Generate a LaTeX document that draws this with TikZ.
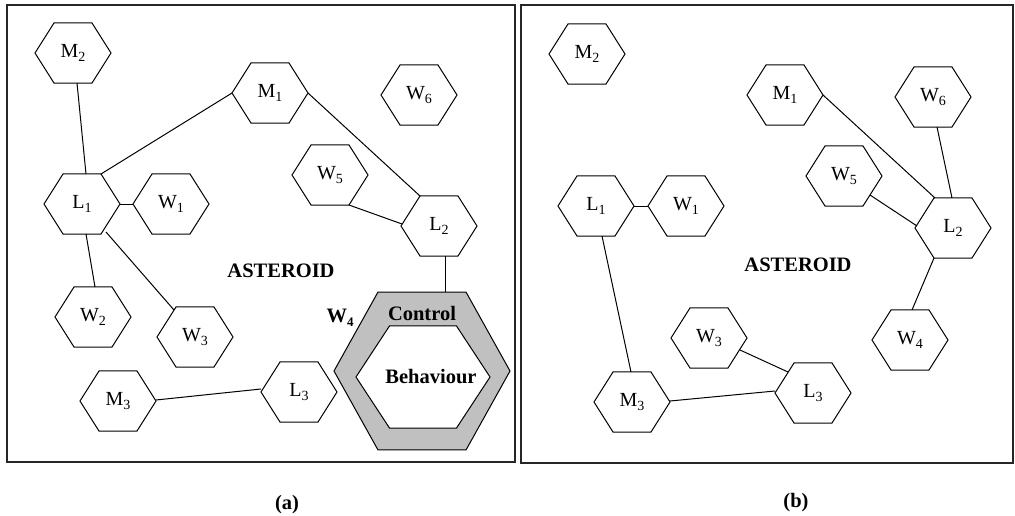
\documentclass[tikz,border=0pt]{standalone}
\usepackage{graphicx}
\usepackage{fontspec}
\setmainfont{Liberation Serif}
\usetikzlibrary{shapes.geometric,calc}
\newcommand{\hsub}[1]{\raisebox{-4pt}{\fontsize{14}{14}\selectfont #1}}
\newcommand{\bsub}[1]{\raisebox{-4pt}{\fontsize{13}{13}\selectfont\bfseries #1}}
\newcommand{\hx}[2]{\scalebox{0.9116}[1]{#1\hsub{#2}}}
\definecolor{shellgray}{RGB}{192,192,192}
\begin{document}
\begin{tikzpicture}[x=1pt,y=-1pt,
  hex/.style={regular polygon, regular polygon sides=6, minimum size=69.3pt,
    inner sep=0pt, outer sep=0pt, draw, line width=1pt, fill=white,
    xscale=1.097, font=\fontsize{20}{20}\selectfont},
  shell/.style={regular polygon, regular polygon sides=6, minimum size=182.4pt,
    inner sep=0pt, outer sep=0pt, draw, line width=1pt, fill=shellgray, xscale=0.965},
  core/.style={regular polygon, regular polygon sides=6, minimum size=117.8pt,
    inner sep=0pt, outer sep=0pt, draw, line width=1pt, fill=white, xscale=1.138},
  link/.style={line width=1pt},
  frame/.style={line width=1.6pt, draw=black!85},
  boldtxt/.style={font=\fontsize{20.5}{20.5}\selectfont\bfseries, inner sep=0pt},
]
\useasboundingbox (0,0) rectangle (1015,516);
\fill[white] (0,0) rectangle (1015,516);
% frames
\draw[frame] (7,5) rectangle (515,462);
\draw[frame] (521,5) rectangle (1013,463);

% ---------- panel (a) ----------
\node[hex] (aM2) at (73,53) {\hx{M}{2}};
\node[hex] (aM1) at (270,93) {\hx{M}{1}};
\node[hex] (aW6) at (419,95) {\hx{W}{6}};
\node[hex] (aW5) at (330,175) {\hx{W}{5}};
\node[hex] (aL1) at (82,204) {\hx{L}{1}};
\node[hex] (aW1) at (171,204) {\hx{W}{1}};
\node[hex] (aL2) at (439,226) {\hx{L}{2}};
\node[hex] (aW2) at (93,317) {\hx{W}{2}};
\node[hex] (aW3) at (195,337) {\hx{W}{3}};
\node[hex] (aM3) at (118,401) {\hx{M}{3}};
\node[hex] (aL3) at (299,392) {\hx{L}{3}};
\node[shell] (aW4) at (422,371) {};
\node[core] (aW4c) at (423,377) {};
\node[boldtxt] (aCtl) at (422,313) {Control};
\node[boldtxt] (aBeh) at (431,377) {Behaviour};
\node[boldtxt] (aW4t) at (340,318) {W\bsub{4}};
\node[boldtxt] (aAst) at (281,271) {ASTEROID};
\node[boldtxt] (aCap) at (287,505) {(a)};

\draw[link] ($(aM2)+(4,30)$) -- ($(aL1)+(4,-30)$);
\draw[link] ($(aM1)+(-38,0)$) -- ($(aL1)+(19,-30)$);
\draw[link] ($(aM1)+(38,0)$) -- ($(aL2)+(-19,-30)$);
\draw[link] ($(aW5)+(19,30)$) -- ($(aL2)+(-37,-2)$);
\draw[link] ($(aL1)+(38,0)$) -- ($(aW1)+(-38,0)$);
\draw[link] ($(aL1)+(4,30)$) -- ($(aW2)+(2,-30)$);
\draw[link] ($(aL1)+(24,28)$) -- ($(aW3)+(-21,-27)$);
\draw[link] ($(aL2)+(6,30)$) -- ($(aW4)+(23,-79)$);
\draw[link] ($(aM3)+(38,-1)$) -- ($(aL3)+(-38,-3)$);

% ---------- panel (b) ----------
\node[hex] (bM2) at (587,54) {\hx{M}{2}};
\node[hex] (bM1) at (785,95) {\hx{M}{1}};
\node[hex] (bW6) at (933,97) {\hx{W}{6}};
\node[hex] (bW5) at (844,176) {\hx{W}{5}};
\node[hex] (bL1) at (596,206) {\hx{L}{1}};
\node[hex] (bW1) at (686,206) {\hx{W}{1}};
\node[hex] (bL2) at (953,228) {\hx{L}{2}};
\node[hex] (bW3) at (709,338) {\hx{W}{3}};
\node[hex] (bW4) at (910,340) {\hx{W}{4}};
\node[hex] (bM3) at (632,402) {\hx{M}{3}};
\node[hex] (bL3) at (813,393) {\hx{L}{3}};
\node[boldtxt] (bAst) at (798,265) {ASTEROID};
\node[boldtxt] (bCap) at (796,503) {(b)};

\draw[link] ($(bL1)+(38,0)$) -- ($(bW1)+(-38,0)$);
\draw[link] ($(bL1)+(6,30)$) -- ($(bM3)+(-1,-30)$);
\draw[link] ($(bM1)+(38,0)$) -- ($(bL2)+(-18,-30)$);
\draw[link] ($(bW6)+(4,30)$) -- ($(bL2)+(-1,-30)$);
\draw[link] ($(bW5)+(26,19)$) -- ($(bL2)+(-36,-2)$);
\draw[link] ($(bL2)+(-19,30)$) -- ($(bW4)+(2,-30)$);
\draw[link] ($(bW3)+(31,12)$) -- ($(bL3)+(-25,-21)$);
\draw[link] ($(bM3)+(38,-1)$) -- ($(bL3)+(-38,-2)$);
\end{tikzpicture}
\end{document}
